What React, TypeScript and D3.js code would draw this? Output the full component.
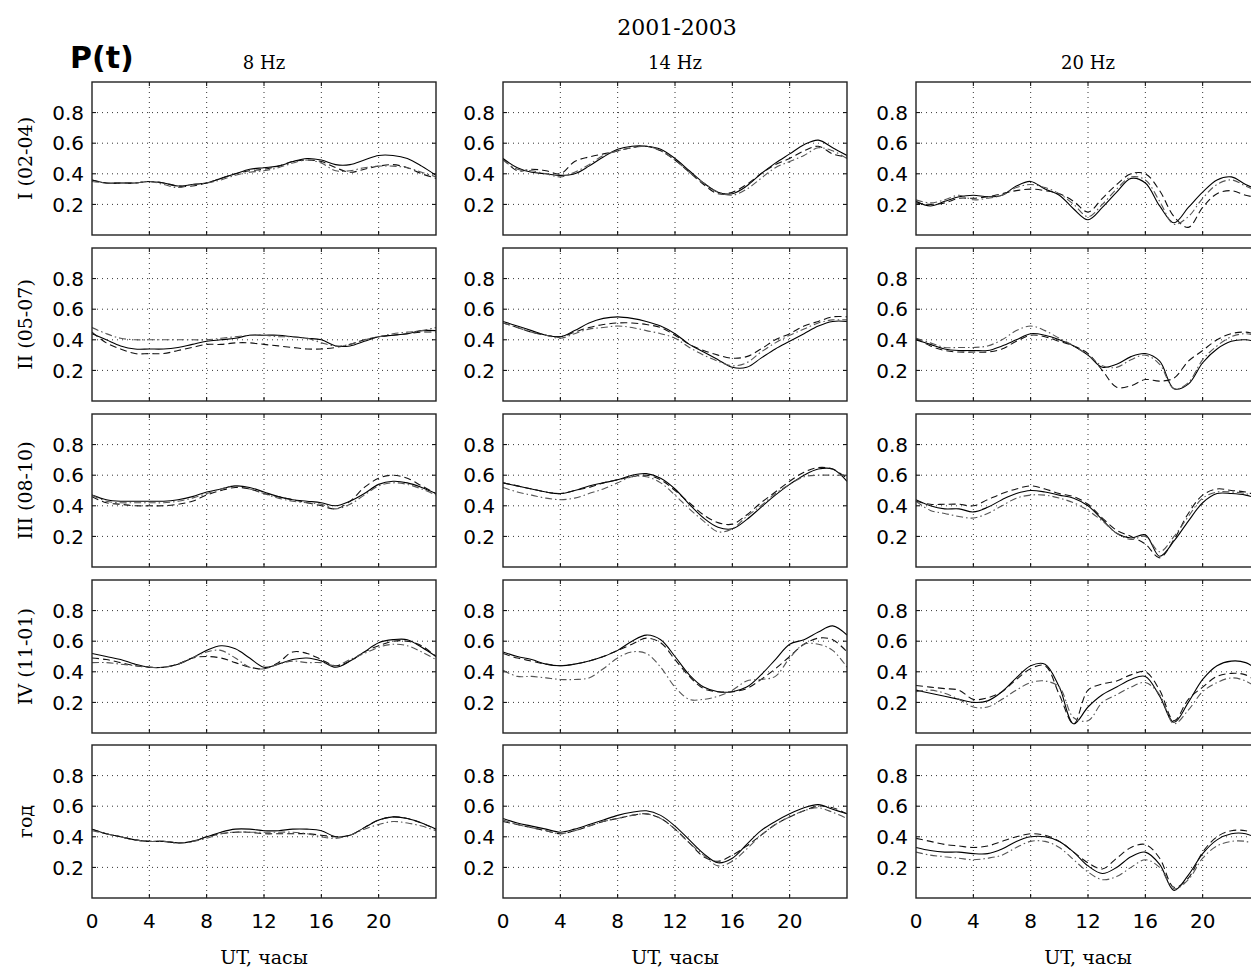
import React from "react";
import * as d3 from "d3";

// ---------- data (P(t) vs UT hour, 0..24 hourly) ----------
const hours = d3.range(0, 25);
const xTicks = [0, 4, 8, 12, 16, 20];
const yTicks = [0.2, 0.4, 0.6, 0.8];
const freqs = ["8 Hz", "14 Hz", "20 Hz"];
const seasons = ["I (02-04)", "II (05-07)", "III (08-10)", "IV (11-01)", "год"];

// Season I
const I8_solid = [0.36,0.34,0.34,0.34,0.35,0.34,0.32,0.33,0.34,0.37,0.40,0.43,0.44,0.45,0.48,0.50,0.49,0.46,0.46,0.49,0.52,0.52,0.50,0.45,0.39];
const I8_dash = [0.36,0.34,0.34,0.34,0.35,0.34,0.32,0.32,0.34,0.37,0.40,0.42,0.43,0.45,0.48,0.49,0.48,0.44,0.41,0.43,0.45,0.46,0.44,0.40,0.37];
const I8_dashdot = [0.35,0.34,0.34,0.34,0.35,0.33,0.31,0.33,0.34,0.36,0.39,0.41,0.42,0.44,0.47,0.49,0.47,0.42,0.42,0.44,0.45,0.45,0.44,0.41,0.38];
const I14_solid = [0.50,0.44,0.41,0.40,0.39,0.40,0.45,0.51,0.56,0.58,0.58,0.56,0.50,0.42,0.34,0.28,0.27,0.32,0.40,0.47,0.53,0.59,0.62,0.57,0.52];
const I14_dash = [0.50,0.42,0.43,0.42,0.40,0.48,0.51,0.53,0.55,0.57,0.58,0.55,0.49,0.41,0.33,0.27,0.28,0.33,0.40,0.46,0.50,0.55,0.58,0.53,0.51];
const I14_dashdot = [0.49,0.43,0.42,0.40,0.38,0.41,0.46,0.52,0.55,0.57,0.58,0.55,0.49,0.41,0.34,0.28,0.26,0.30,0.37,0.44,0.48,0.52,0.57,0.55,0.50];
const I20_solid = [0.22,0.19,0.22,0.25,0.26,0.25,0.26,0.32,0.35,0.30,0.26,0.17,0.10,0.18,0.28,0.37,0.34,0.19,0.08,0.18,0.28,0.36,0.38,0.33,0.29];
const I20_dash = [0.21,0.20,0.21,0.24,0.24,0.25,0.27,0.29,0.30,0.29,0.27,0.22,0.15,0.24,0.33,0.40,0.40,0.29,0.12,0.05,0.18,0.27,0.29,0.26,0.24];
const I20_dashdot = [0.23,0.21,0.23,0.26,0.23,0.24,0.26,0.31,0.33,0.31,0.27,0.20,0.12,0.20,0.30,0.38,0.36,0.22,0.07,0.12,0.24,0.33,0.36,0.32,0.28];

// Season II
const II8_solid = [0.44,0.40,0.36,0.34,0.34,0.34,0.35,0.37,0.39,0.40,0.41,0.43,0.43,0.43,0.42,0.41,0.40,0.36,0.36,0.39,0.42,0.43,0.44,0.46,0.46];
const II8_dash = [0.45,0.38,0.34,0.31,0.31,0.31,0.33,0.35,0.37,0.37,0.38,0.38,0.37,0.36,0.35,0.34,0.34,0.35,0.37,0.40,0.42,0.43,0.44,0.45,0.45];
const II8_dashdot = [0.48,0.44,0.41,0.40,0.40,0.40,0.40,0.40,0.40,0.41,0.42,0.43,0.43,0.42,0.42,0.41,0.38,0.36,0.37,0.40,0.42,0.44,0.45,0.46,0.48];
const II14_solid = [0.52,0.49,0.46,0.43,0.42,0.46,0.51,0.54,0.55,0.54,0.52,0.49,0.44,0.37,0.32,0.27,0.22,0.22,0.28,0.34,0.39,0.44,0.49,0.52,0.52];
const II14_dash = [0.51,0.48,0.45,0.43,0.42,0.45,0.48,0.50,0.51,0.51,0.50,0.48,0.43,0.37,0.33,0.30,0.28,0.29,0.34,0.40,0.44,0.49,0.52,0.55,0.55];
const II14_dashdot = [0.51,0.48,0.45,0.43,0.41,0.44,0.47,0.48,0.49,0.48,0.46,0.44,0.41,0.35,0.30,0.26,0.23,0.25,0.32,0.38,0.43,0.47,0.51,0.53,0.53];
const II20_solid = [0.40,0.37,0.34,0.33,0.33,0.33,0.36,0.40,0.44,0.43,0.40,0.36,0.30,0.22,0.24,0.29,0.31,0.26,0.08,0.11,0.25,0.34,0.39,0.40,0.38];
const II20_dash = [0.41,0.36,0.33,0.32,0.32,0.32,0.34,0.39,0.43,0.42,0.39,0.36,0.31,0.20,0.09,0.10,0.14,0.13,0.15,0.26,0.33,0.40,0.44,0.45,0.43];
const II20_dashdot = [0.41,0.38,0.35,0.35,0.35,0.36,0.40,0.46,0.49,0.46,0.41,0.36,0.30,0.23,0.22,0.27,0.30,0.24,0.08,0.12,0.27,0.36,0.42,0.44,0.42];

// Season III
const III8_solid = [0.47,0.44,0.43,0.43,0.43,0.43,0.44,0.46,0.49,0.51,0.53,0.52,0.49,0.46,0.44,0.43,0.42,0.40,0.43,0.48,0.54,0.56,0.55,0.52,0.48];
const III8_dash = [0.46,0.42,0.41,0.40,0.40,0.40,0.41,0.43,0.47,0.50,0.52,0.51,0.48,0.46,0.44,0.42,0.40,0.38,0.43,0.52,0.58,0.60,0.58,0.53,0.48];
const III8_dashdot = [0.47,0.43,0.42,0.42,0.42,0.42,0.43,0.45,0.48,0.51,0.53,0.51,0.48,0.45,0.43,0.42,0.41,0.38,0.41,0.47,0.53,0.55,0.54,0.51,0.47];
const III14_solid = [0.55,0.53,0.51,0.49,0.48,0.50,0.53,0.55,0.57,0.60,0.61,0.58,0.51,0.41,0.32,0.26,0.25,0.31,0.39,0.47,0.54,0.60,0.64,0.64,0.56];
const III14_dash = [0.55,0.53,0.51,0.49,0.48,0.50,0.52,0.55,0.57,0.59,0.60,0.57,0.50,0.42,0.34,0.29,0.28,0.34,0.42,0.49,0.56,0.62,0.65,0.64,0.58];
const III14_dashdot = [0.52,0.49,0.47,0.45,0.44,0.45,0.48,0.51,0.55,0.59,0.59,0.55,0.47,0.38,0.30,0.23,0.25,0.33,0.40,0.48,0.54,0.59,0.60,0.60,0.60];
const III20_solid = [0.44,0.40,0.38,0.38,0.36,0.39,0.44,0.48,0.50,0.49,0.47,0.45,0.40,0.31,0.22,0.19,0.21,0.07,0.17,0.30,0.42,0.48,0.48,0.47,0.44];
const III20_dash = [0.43,0.41,0.41,0.41,0.40,0.44,0.48,0.51,0.53,0.51,0.48,0.46,0.41,0.32,0.24,0.20,0.15,0.06,0.18,0.35,0.47,0.51,0.50,0.49,0.46];
const III20_dashdot = [0.43,0.37,0.35,0.33,0.32,0.35,0.40,0.45,0.47,0.47,0.45,0.42,0.37,0.30,0.22,0.18,0.20,0.10,0.20,0.33,0.45,0.49,0.49,0.48,0.45];

// Season IV
const IV8_solid = [0.52,0.50,0.48,0.45,0.43,0.43,0.45,0.49,0.54,0.57,0.55,0.49,0.43,0.45,0.48,0.49,0.47,0.43,0.47,0.53,0.59,0.61,0.61,0.56,0.50];
const IV8_dash = [0.49,0.48,0.46,0.44,0.43,0.43,0.45,0.49,0.50,0.49,0.46,0.43,0.42,0.46,0.53,0.52,0.48,0.44,0.47,0.53,0.57,0.60,0.60,0.57,0.50];
const IV8_dashdot = [0.46,0.46,0.45,0.44,0.43,0.43,0.45,0.49,0.53,0.54,0.49,0.43,0.42,0.45,0.47,0.46,0.46,0.44,0.48,0.52,0.56,0.58,0.57,0.53,0.48];
const IV14_solid = [0.53,0.50,0.48,0.45,0.44,0.45,0.47,0.50,0.54,0.60,0.64,0.61,0.50,0.38,0.30,0.27,0.27,0.30,0.38,0.48,0.58,0.61,0.66,0.70,0.64];
const IV14_dash = [0.52,0.49,0.47,0.45,0.44,0.45,0.47,0.50,0.54,0.58,0.62,0.59,0.48,0.37,0.29,0.27,0.27,0.29,0.35,0.42,0.50,0.58,0.62,0.61,0.53];
const IV14_dashdot = [0.41,0.37,0.37,0.36,0.35,0.35,0.36,0.42,0.49,0.53,0.52,0.43,0.30,0.22,0.22,0.24,0.28,0.34,0.35,0.37,0.49,0.58,0.58,0.54,0.43];
const IV20_solid = [0.28,0.26,0.24,0.22,0.20,0.21,0.27,0.36,0.44,0.45,0.30,0.06,0.17,0.25,0.30,0.35,0.37,0.24,0.07,0.20,0.35,0.44,0.47,0.46,0.40];
const IV20_dash = [0.31,0.30,0.29,0.28,0.22,0.23,0.27,0.35,0.42,0.44,0.25,0.06,0.28,0.32,0.34,0.38,0.40,0.28,0.08,0.22,0.30,0.37,0.39,0.38,0.32];
const IV20_dashdot = [0.27,0.28,0.26,0.22,0.17,0.17,0.22,0.28,0.33,0.34,0.30,0.10,0.08,0.20,0.25,0.30,0.33,0.25,0.06,0.15,0.27,0.33,0.36,0.34,0.28];

// Year
const Y8_solid = [0.45,0.42,0.40,0.38,0.37,0.37,0.36,0.37,0.40,0.43,0.45,0.45,0.44,0.44,0.45,0.45,0.44,0.40,0.41,0.46,0.51,0.53,0.52,0.49,0.45];
const Y8_dash = [0.45,0.42,0.40,0.38,0.37,0.37,0.36,0.37,0.40,0.42,0.43,0.43,0.42,0.42,0.42,0.42,0.41,0.40,0.41,0.46,0.51,0.53,0.52,0.49,0.45];
const Y8_dashdot = [0.44,0.42,0.40,0.38,0.37,0.37,0.36,0.37,0.39,0.42,0.43,0.43,0.43,0.43,0.43,0.42,0.40,0.39,0.41,0.45,0.48,0.50,0.49,0.47,0.44];
const Y14_solid = [0.52,0.49,0.47,0.45,0.43,0.45,0.48,0.51,0.54,0.56,0.57,0.54,0.47,0.38,0.29,0.23,0.26,0.35,0.44,0.50,0.55,0.59,0.61,0.58,0.55];
const Y14_dash = [0.50,0.48,0.46,0.44,0.42,0.44,0.47,0.50,0.52,0.54,0.55,0.52,0.45,0.36,0.27,0.24,0.28,0.34,0.41,0.48,0.53,0.57,0.60,0.59,0.55];
const Y14_dashdot = [0.51,0.48,0.46,0.44,0.42,0.44,0.47,0.50,0.52,0.54,0.55,0.52,0.45,0.36,0.28,0.21,0.24,0.32,0.41,0.48,0.53,0.57,0.59,0.56,0.52];
const Y20_solid = [0.33,0.31,0.30,0.30,0.29,0.29,0.32,0.37,0.40,0.40,0.37,0.30,0.21,0.16,0.20,0.27,0.30,0.22,0.05,0.15,0.29,0.38,0.42,0.42,0.38];
const Y20_dash = [0.39,0.37,0.35,0.34,0.33,0.34,0.37,0.40,0.42,0.41,0.37,0.30,0.23,0.19,0.26,0.33,0.35,0.26,0.07,0.13,0.30,0.40,0.44,0.44,0.41];
const Y20_dashdot = [0.30,0.28,0.27,0.26,0.25,0.26,0.28,0.33,0.37,0.37,0.33,0.25,0.17,0.12,0.14,0.20,0.25,0.20,0.06,0.12,0.26,0.34,0.37,0.37,0.34];

const grid = [
  [[I8_solid, I8_dash, I8_dashdot], [I14_solid, I14_dash, I14_dashdot], [I20_solid, I20_dash, I20_dashdot]],
  [[II8_solid, II8_dash, II8_dashdot], [II14_solid, II14_dash, II14_dashdot], [II20_solid, II20_dash, II20_dashdot]],
  [[III8_solid, III8_dash, III8_dashdot], [III14_solid, III14_dash, III14_dashdot], [III20_solid, III20_dash, III20_dashdot]],
  [[IV8_solid, IV8_dash, IV8_dashdot], [IV14_solid, IV14_dash, IV14_dashdot], [IV20_solid, IV20_dash, IV20_dashdot]],
  [[Y8_solid, Y8_dash, Y8_dashdot], [Y14_solid, Y14_dash, Y14_dashdot], [Y20_solid, Y20_dash, Y20_dashdot]],
];

// ---------- layout ----------
const W = 1251, H = 971;
const colLeft = [92, 503, 916];
const panelW = 344;
const rowTop = [82, 248, 414, 580, 745];
const panelH = 153;

const lineStyles = [
  { stroke: "#000", dash: null, width: 1.1 },
  { stroke: "#111", dash: "7,4", width: 1.1 },
  { stroke: "#555", dash: "7,3,1.5,3", width: 1.1 },
];

const sans = "'DejaVu Sans', sans-serif";
const serif = "'DejaVu Serif', serif";

function Panel({ r, c }: { r: number; c: number }) {
  const x0 = colLeft[c], y0 = rowTop[r];
  const x = d3.scaleLinear().domain([0, 24]).range([x0, x0 + panelW]);
  const y = d3.scaleLinear().domain([0, 1]).range([y0 + panelH, y0]);
  const line = d3
    .line<number>()
    .x((_, i) => x(hours[i]))
    .y((v) => y(v))
    .curve(d3.curveCatmullRom.alpha(0.5));
  const id = `clip-${r}-${c}`;
  return (
    <g>
      <defs>
        <clipPath id={id}>
          <rect x={x0} y={y0} width={panelW} height={panelH} />
        </clipPath>
      </defs>
      {xTicks.slice(1).map((t) => (
        <line key={"gx" + t} x1={x(t)} x2={x(t)} y1={y0} y2={y0 + panelH} stroke="#000" strokeWidth={0.8} strokeDasharray="1,4" />
      ))}
      {yTicks.map((t) => (
        <line key={"gy" + t} x1={x0} x2={x0 + panelW} y1={y(t)} y2={y(t)} stroke="#000" strokeWidth={0.8} strokeDasharray="1,4" />
      ))}
      {xTicks.slice(1).map((t) => (
        <g key={"tx" + t}>
          <line x1={x(t)} x2={x(t)} y1={y0} y2={y0 + 4} stroke="#000" />
          <line x1={x(t)} x2={x(t)} y1={y0 + panelH} y2={y0 + panelH - 4} stroke="#000" />
        </g>
      ))}
      {yTicks.map((t) => (
        <g key={"ty" + t}>
          <line x1={x0} x2={x0 + 4} y1={y(t)} y2={y(t)} stroke="#000" />
          <line x1={x0 + panelW} x2={x0 + panelW - 4} y1={y(t)} y2={y(t)} stroke="#000" />
        </g>
      ))}
      <g clipPath={`url(#${id})`}>
        {grid[r][c].map((vals, k) => (
          <path
            key={k}
            d={line(vals) || ""}
            fill="none"
            stroke={lineStyles[k].stroke}
            strokeWidth={lineStyles[k].width}
            strokeDasharray={lineStyles[k].dash || undefined}
          />
        ))}
      </g>
      <rect x={x0} y={y0} width={panelW} height={panelH} fill="none" stroke="#222" strokeWidth={1.4} />
      {yTicks.map((t) => (
        <text key={"yl" + t} x={x0 - 8} y={y(t)} dy="0.36em" textAnchor="end" fontFamily={sans} fontSize={20} fill="#000">
          {t.toFixed(1)}
        </text>
      ))}
      {r === rowTop.length - 1 &&
        xTicks.map((t) => (
          <text key={"xl" + t} x={x(t)} y={y0 + panelH + 30} textAnchor="middle" fontFamily={sans} fontSize={20} fill="#000">
            {t}
          </text>
        ))}
      {r === rowTop.length - 1 && (
        <text x={x0 + panelW / 2} y={964} textAnchor="middle" fontFamily={serif} fontSize={19} fill="#000">
          UT, часы
        </text>
      )}
      {r === 0 && (
        <text x={x0 + panelW / 2} y={69} textAnchor="middle" fontFamily={serif} fontSize={18} fill="#000">
          {freqs[c]}
        </text>
      )}
    </g>
  );
}

export default function App() {
  return (
    <svg width={W} height={H} style={{ position: "absolute", left: 0, top: 0, background: "#fff" }}>
      <rect x={0} y={0} width={W} height={H} fill="#fff" />
      <text x={677} y={35} textAnchor="middle" fontFamily={serif} fontSize={22} fill="#000">
        2001-2003
      </text>
      <text x={70} y={68} fontFamily={sans} fontWeight="bold" fontSize={30} fill="#000">
        P(t)
      </text>
      {seasons.map((s, r) => (
        <text
          key={s}
          transform={`translate(32,${rowTop[r] + panelH / 2}) rotate(-90)`}
          textAnchor="middle"
          fontFamily={serif}
          fontSize={19}
          fill="#000"
        >
          {s}
        </text>
      ))}
      {rowTop.map((_, r) => colLeft.map((__, c) => <Panel key={`${r}-${c}`} r={r} c={c} />))}
    </svg>
  );
}
